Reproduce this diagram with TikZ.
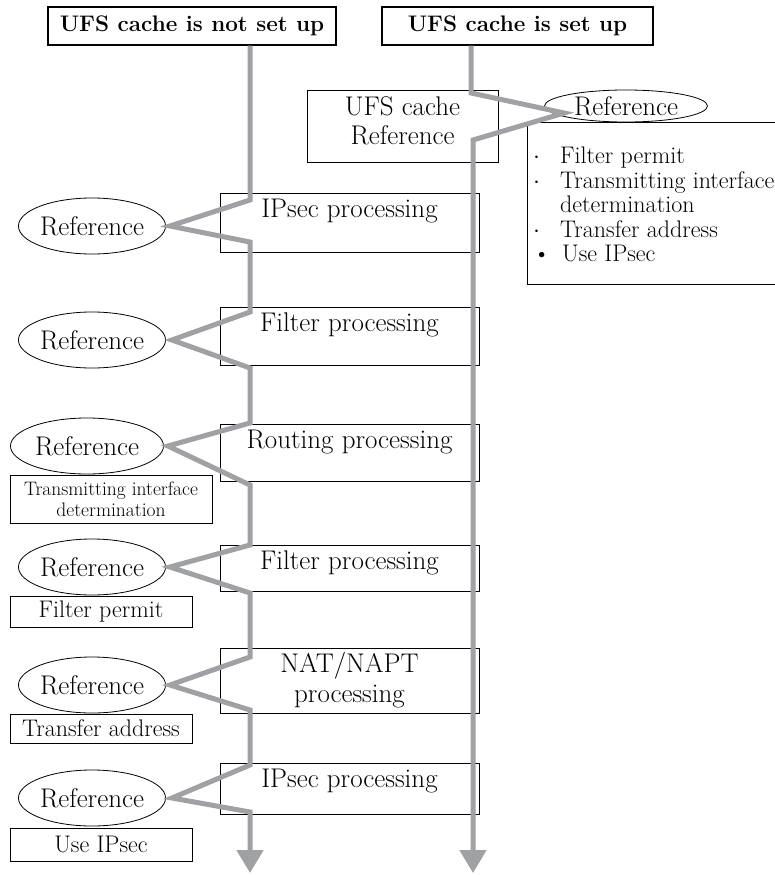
\documentclass[tikz,border=0pt]{standalone}
\usepackage{fontspec}
\usepackage{tikz}
\usetikzlibrary{arrows.meta, shapes.geometric, positioning}
\definecolor{flowgray}{RGB}{160,161,165}
\newcommand\bigtxt{\fontsize{27}{31}\selectfont}
\newcommand\midtxt{\fontsize{24}{24.5}\selectfont}
\newcommand\smalltxt{\fontsize{19.5}{21}\selectfont}
\newcommand\dotitem{\makebox[27pt][l]{$\cdot$}}

\begin{document}
\begin{tikzpicture}[x=1pt, y=-1pt,
		titlebox/.style={draw, line width=1.3pt, inner sep=0pt, minimum height=38pt, font=\fontsize{22.5}{26}\selectfont\bfseries},
		refoval/.style={draw, ellipse, line width=0.8pt, inner sep=0pt, minimum width=143pt, minimum height=56pt, font=\bigtxt},
		procbox/.style={draw, line width=0.8pt, anchor=north, minimum width=259pt, inner ysep=3pt, text height=21pt, font=\bigtxt},
		notebox/.style={draw, line width=0.8pt, inner sep=0pt, font=\midtxt},
		flow/.style={draw=flowgray, line width=5pt}]
				\useasboundingbox (0,0) rectangle (774,875);
				\node[titlebox, minimum width=288pt] (offtitle) at (192,26) {UFS cache is not set up};
				\node[titlebox, minimum width=271pt] (ontitle) at (517.5,26) {UFS cache is set up};
				\node[notebox, minimum width=191pt, minimum height=72pt, align=center, font=\fontsize{27}{29}\selectfont] (cacheref) at (402.5,126) {UFS cache\\Reference\\[-19pt]};
				\node[notebox, anchor=north west, minimum width=260pt, minimum height=162pt] (cachebox) at (527,122) {};
				\node[refoval, minimum width=163pt, minimum height=32pt] (ref0) at (626,106) {Reference};
				\node[anchor=north west, align=left, inner sep=0pt, font=\midtxt] (cachelist) at (533,147)
					{\dotitem Filter permit\\ \dotitem Transmitting interface\\ \hspace*{27pt}determination\\
					 \dotitem Transfer address\\ \makebox[29pt][l]{\textbullet}Use IPsec};
				\node[procbox, text depth=32pt] (proc1) at (349.5,193) {IPsec processing};
				\node[procbox, text depth=31pt] (proc2) at (349.5,307) {Filter processing};
				\node[procbox, text depth=30pt] (proc3) at (349.5,424) {Routing processing};
				\node[procbox, text depth=19pt] (proc4) at (349.5,545) {Filter processing};
				\node[draw, line width=0.8pt, minimum width=259pt, minimum height=65pt, align=center, font=\fontsize{27}{30}\selectfont] (proc5) at (349.5,680.5) {NAT/NAPT\\processing};
				\node[procbox, text depth=24pt] (proc6) at (349.5,763) {IPsec processing};
				\node[refoval] (ref1) at (92,226) {Reference};
				\node[refoval] (ref2) at (92,340) {Reference};
				\node[refoval, minimum width=153pt] (ref3) at (87,446) {Reference};
				\node[refoval] (ref4) at (92,567) {Reference};
				\node[refoval] (ref5) at (92,685) {Reference};
				\node[refoval] (ref6) at (92,798) {Reference};
				\node[notebox, minimum width=202pt, minimum height=48pt, align=center, font=\smalltxt] (note3) at (111,499) {Transmitting interface\\determination};
				\node[notebox, minimum width=182pt, minimum height=31pt, font=\midtxt\addfontfeature{LetterSpace=6}] (note4) at (101,612) {Filter permit};
				\node[notebox, minimum width=182pt, minimum height=29pt] (note5) at (101,728.5) {Transfer address};
				\node[notebox, minimum width=182pt, minimum height=33pt] (note6) at (101,844.5) {Use IPsec};
				\draw[flow, -{Triangle[width=26pt,length=23pt]}] (offtitle.south -| 250,0) -- (250,200) -- ([xshift=4pt]ref1.east) -- (250,242)
					-- (250,312) -- ([xshift=6pt]ref2.east) -- (250,368)
					-- (250,423) -- ([xshift=4pt]ref3.east) -- (250,485)
					-- (250,545) -- ([xshift=4pt]ref4.east) -- (250,593)
					-- (250,657) -- ([xshift=4pt]ref5.east) -- (250,710)
					-- (250,765) -- ([xshift=6pt]ref6.east) -- (250,812) -- (250,873);
				\draw[flow, -{Triangle[width=26pt,length=23pt]}] (ontitle.south -| 471,0) -- (471,93) -- ([xshift=20pt,yshift=-7pt]ref0.west)
					-- (473,140) -- (473,873);
			\end{tikzpicture}
\end{document}
